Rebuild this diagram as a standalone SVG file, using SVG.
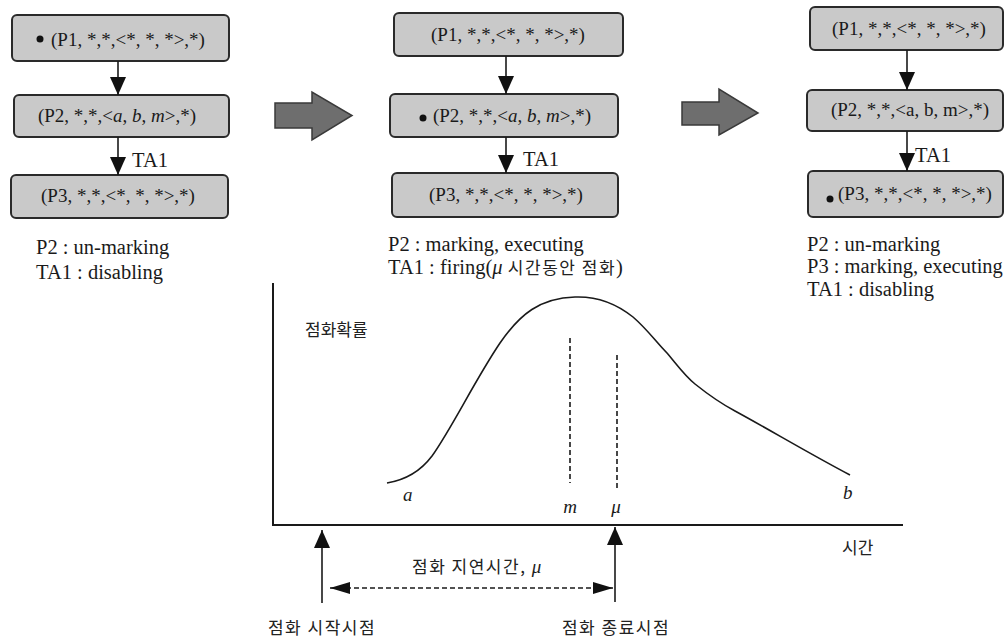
<svg xmlns="http://www.w3.org/2000/svg" width="1007" height="637" viewBox="0 0 1007 637">
<style>
.bt,.t{font-family:"Liberation Serif","DejaVu Serif",serif;font-size:19px;fill:#1a1a1a}
.n{font-size:20.5px}
.box{fill:#c9c9c9;stroke:#2a2a2a;stroke-width:2}
.bt{text-anchor:middle}
.k{font-family:"Noto Sans CJK KR",sans-serif;font-size:17px;fill:#222}
.ks{letter-spacing:1.5px}
.i{font-style:italic}
.ln{stroke:#1a1a1a;stroke-width:1.6;fill:none}
.dash{stroke:#1a1a1a;stroke-width:1.6;fill:none;stroke-dasharray:5,3}
.big{fill:#6e6e6e;stroke:#3a3a3a;stroke-width:1.5}
.ax{stroke:#1a1a1a;stroke-width:2;fill:none}
</style>
<defs>
<marker id="ah" viewBox="0 0 18 16" refX="18" refY="8" markerWidth="18" markerHeight="16" markerUnits="userSpaceOnUse" orient="auto">
<path d="M0,0 L18,8 L0,16 Z" fill="#111"/>
</marker>
<marker id="ahs" viewBox="0 0 20 12" refX="20" refY="6" markerWidth="20" markerHeight="12" markerUnits="userSpaceOnUse" orient="auto-start-reverse">
<path d="M0,0 L20,6 L0,12 Z" fill="#111"/>
</marker>
</defs>

<!-- Panel 1 -->
<g id="p1-P1"><rect class="box" x="12" y="15" width="217" height="46" rx="5"/><circle cx="40" cy="39" r="3.5" fill="#111"/><text class="bt" x="128" y="46">(P1, *,*,&lt;*, *, *&gt;,*)</text></g>
<g id="p1-P2"><rect class="box" x="14" y="95" width="215" height="42" rx="5"/><text class="bt" x="117" y="122">(P2, *,*,&lt;<tspan class="i">a</tspan>, <tspan class="i">b</tspan>, <tspan class="i">m</tspan>&gt;,*)</text></g>
<g id="p1-P3"><rect class="box" x="11" y="175" width="217" height="43" rx="5"/><text class="bt" x="118" y="202">(P3, *,*,&lt;*, *, *&gt;,*)</text></g>
<g id="p1-notes"><text class="t n" x="36" y="254">P2 : un-marking</text><text class="t n" x="36" y="279">TA1 : disabling</text></g>

<!-- Panel 2 -->
<g id="p2-P1"><rect class="box" x="394" y="13" width="229" height="43" rx="5"/><text class="bt" x="508" y="41">(P1, *,*,&lt;*, *, *&gt;,*)</text></g>
<g id="p2-P2"><rect class="box" x="390" y="94" width="228" height="43" rx="5"/><circle cx="423" cy="118" r="3.5" fill="#111"/><text class="bt" x="512" y="122">(P2, *,*,&lt;<tspan class="i">a</tspan>, <tspan class="i">b</tspan>, <tspan class="i">m</tspan>&gt;,*)</text></g>
<g id="p2-P3"><rect class="box" x="392" y="173" width="226" height="44" rx="5"/><text class="bt" x="506" y="201">(P3, *,*,&lt;*, *, *&gt;,*)</text></g>
<g id="p2-notes"><text class="t n" x="388" y="251">P2 : marking, executing</text><text class="t n" x="388" y="274">TA1 : firing(<tspan class="i">μ</tspan><tspan class="k ks" font-size="16.5"> 시간동안 점화</tspan>)</text></g>

<!-- Panel 3 -->
<g id="p3-P1"><rect class="box" x="810" y="7" width="193" height="43" rx="5"/><text class="bt" x="909" y="35">(P1, *,*,&lt;*, *, *&gt;,*)</text></g>
<g id="p3-P2"><rect class="box" x="807" y="90" width="196" height="41" rx="5"/><text class="bt" x="910" y="116">(P2, *,*,&lt;a, b, m&gt;,*)</text></g>
<g id="p3-P3"><rect class="box" x="808" y="171" width="195" height="46" rx="5"/><circle cx="830" cy="199" r="3.5" fill="#111"/><text class="bt" x="915" y="200">(P3, *,*,&lt;*, *, *&gt;,*)</text></g>
<g id="p3-notes"><text class="t n" x="807" y="251">P2 : un-marking</text><text class="t n" x="807" y="273">P3 : marking, executing</text><text class="t n" x="807" y="296">TA1 : disabling</text></g>

<!-- Big transition arrows -->
<g id="big-arrow-1"><polygon class="big" points="275,103 312,103 312,92 352,115.5 312,140 312,128 275,128"/></g>
<g id="big-arrow-2"><polygon class="big" points="682,102 719,102 719,89 758,113 719,135 719,125 682,125"/></g>

<!-- Connectors -->
<g id="connectors">
<line class="ln" x1="118" y1="61" x2="118" y2="95" marker-end="url(#ah)"/>
<line class="ln" x1="118" y1="137" x2="118" y2="175" marker-end="url(#ah)"/>
<text class="t n" x="132" y="167">TA1</text>
<line class="ln" x1="506" y1="56" x2="506" y2="94" marker-end="url(#ah)"/>
<line class="ln" x1="506" y1="137" x2="506" y2="173" marker-end="url(#ah)"/>
<text class="t n" x="523" y="166">TA1</text>
<line class="ln" x1="907" y1="50" x2="907" y2="90" marker-end="url(#ah)"/>
<line class="ln" x1="907" y1="131" x2="907" y2="171" marker-end="url(#ah)"/>
<text class="t n" x="915" y="162">TA1</text>
</g>

<!-- Graph -->
<g id="graph">
<path class="ax" d="M273,283 L273,525 L903,525"/>
<path class="ln" stroke-width="2" d="M387,483 C405,480 420,472 432,456 C452,428 475,380 500,343 C520,314 540,298 575,297 C600,296 618,305 633,317 C648,330 656,342 667,353 C678,366 685,376 695,384 C710,396 720,403 735,411 C770,430 810,454 850,475"/>
<line class="dash" x1="570" y1="338" x2="570" y2="483"/>
<line class="dash" x1="617" y1="355" x2="617" y2="488"/>
<text class="k" x="305" y="336">점화확률</text>
<text class="t i" x="403" y="501">a</text>
<text class="t i" x="570" y="513" text-anchor="middle">m</text>
<text class="t i" x="616" y="513" text-anchor="middle">μ</text>
<text class="t i" x="843" y="499">b</text>
<text class="k" x="842" y="554">시간</text>
</g>

<!-- Time markers -->
<g id="time-markers">
<line class="ln" x1="322" y1="603" x2="322" y2="530" marker-end="url(#ah)"/>
<line class="ln" x1="615" y1="602" x2="615" y2="527" marker-end="url(#ah)"/>
<line class="dash" x1="330" y1="588" x2="613" y2="588" marker-start="url(#ahs)" marker-end="url(#ahs)"/>
<text class="k ks" x="412" y="573">점화 지연시간, <tspan font-family="Liberation Serif, serif" font-style="italic" font-size="19">μ</tspan></text>
<text class="k ks" x="322" y="634" text-anchor="middle">점화 시작시점</text>
<text class="k ks" x="616" y="634" text-anchor="middle">점화 종료시점</text>
</g>
</svg>
